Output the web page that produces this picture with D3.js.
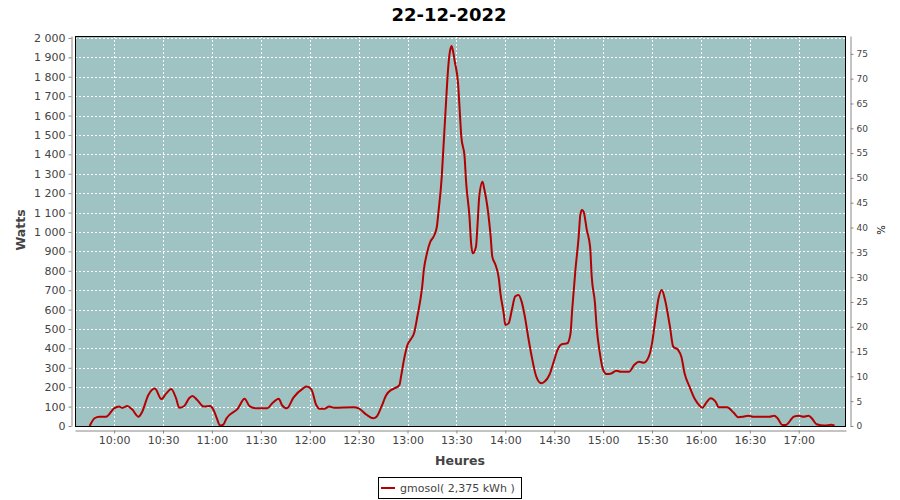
<!DOCTYPE html>
<html>
<head>
<meta charset="utf-8">
<script src="https://cdn.jsdelivr.net/npm/d3@7"></script>
<style>
  body { margin: 0; background: #ffffff; }
  svg { display: block; font-family: "DejaVu Sans", sans-serif; }
</style>
</head>
<body>
<svg id="chart" width="900" height="500"></svg>
<script>
const title = "22-12-2022";
const seriesName = "gmosol( 2,375 kWh )";
const xDomain = ["09:36", "17:29"];
const leftMax = 2010;
const rightMax = 78.6;
const leftTicks = [0,100,200,300,400,500,600,700,800,900,1000,1100,1200,1300,1400,1500,1600,1700,1800,1900,2000];
const rightTicks = [0,5,10,15,20,25,30,35,40,45,50,55,60,65,70,75];
const times = ["09:45","09:48","09:51","09:55","10:00","10:03","10:05","10:08","10:11","10:15","10:17","10:21","10:25","10:29","10:32","10:35","10:38","10:40","10:43","10:46","10:48","10:51","10:55","10:59","11:01","11:03","11:05","11:07","11:09","11:16","11:20","11:23","11:27","11:34","11:37","11:41","11:43","11:46","11:50","11:56","11:58","12:01","12:04","12:06","12:09","12:12","12:15","12:27","12:30","12:35","12:39","12:41","12:44","12:47","12:50","12:52","12:55","12:56","12:58","13:00","13:02","13:04","13:06","13:09","13:10","13:12","13:14","13:16","13:18","13:19","13:21","13:22","13:23","13:24","13:25","13:26","13:27","13:28","13:29","13:31","13:32","13:33","13:35","13:36","13:38","13:39","13:40","13:42","13:43","13:44","13:46","13:47","13:49","13:51","13:52","13:54","13:56","13:57","13:59","14:00","14:02","14:04","14:06","14:08","14:10","14:12","14:14","14:16","14:19","14:22","14:24","14:27","14:30","14:32","14:35","14:38","14:40","14:41","14:43","14:45","14:46","14:47","14:48","14:50","14:52","14:53","14:55","14:56","14:58","15:00","15:02","15:05","15:08","15:11","15:16","15:19","15:22","15:25","15:28","15:30","15:32","15:34","15:36","15:38","15:41","15:43","15:46","15:48","15:50","15:53","15:56","15:58","16:01","16:03","16:06","16:09","16:11","16:16","16:20","16:23","16:26","16:29","16:32","16:42","16:45","16:47","16:50","16:52","16:57","17:00","17:03","17:06","17:08","17:11","17:16","17:20","17:22"];
const watts = [0,40,48,48,91,100,93,103,86,48,69,160,193,139,168,191,143,94,103,143,155,134,100,103,82,40,2,7,40,91,141,103,91,91,117,141,108,91,146,194,203,189,108,89,89,100,94,96,91,57,40,48,100,160,186,194,211,254,349,418,447,478,563,718,804,893,950,976,1027,1105,1285,1431,1577,1723,1852,1929,1959,1929,1878,1766,1629,1491,1388,1251,1079,942,890,924,1045,1182,1259,1225,1130,976,873,830,761,684,581,521,529,598,667,675,641,563,460,366,254,220,228,263,340,392,423,426,478,598,804,976,1088,1113,1105,1010,924,770,632,512,375,289,268,271,285,280,280,314,331,326,357,426,546,658,701,649,512,409,392,357,271,203,143,117,94,117,143,125,96,96,69,45,48,53,48,48,53,40,5,5,48,53,48,53,40,9,2,7,2];

const parse = d3.timeParse("%H:%M");
const data = times.map((t, i) => ({ t: parse(t), v: watts[i] }));

const svg = d3.select("#chart");
const L = 75, R = 846, T = 36, B = 426;

const x = d3.scaleTime().domain(xDomain.map(parse)).range([L, R]);
const y = d3.scaleLinear().domain([0, leftMax]).range([B, T]);
const y2 = d3.scaleLinear().domain([0, rightMax]).range([B, T]);

// title
svg.append("text").attr("x", 449).attr("y", 21).attr("text-anchor", "middle")
  .attr("font-size", 18).attr("font-weight", "bold").attr("fill", "#000").text(title);

// plot background
svg.append("rect").attr("x", L).attr("y", T).attr("width", R - L).attr("height", B - T)
  .attr("fill", "#9ec3c2");

const xTickVals = x.ticks(d3.timeMinute.every(30));
// grid
const grid = svg.append("g").attr("stroke", "#ffffff").attr("stroke-width", 1).attr("stroke-dasharray", "2,2");
grid.selectAll("line.h").data(leftTicks.filter(d => d > 0)).join("line")
  .attr("x1", L).attr("x2", R).attr("y1", d => Math.round(y(d)) + 0.5).attr("y2", d => Math.round(y(d)) + 0.5);
grid.selectAll("line.v").data(xTickVals).join("line")
  .attr("y1", T).attr("y2", B).attr("x1", d => Math.round(x(d)) + 0.5).attr("x2", d => Math.round(x(d)) + 0.5);

// line
svg.append("clipPath").attr("id", "clip").append("rect")
  .attr("x", L).attr("y", T).attr("width", R - L).attr("height", B - T);
svg.append("path").datum(data)
  .attr("clip-path", "url(#clip)")
  .attr("fill", "none").attr("stroke", "#b40000").attr("stroke-width", 2).attr("stroke-linejoin", "round")
  .attr("d", d3.line().x(d => x(d.t)).y(d => y(d.v)).curve(d3.curveMonotoneX));

// plot border
svg.append("rect").attr("x", L + 0.5).attr("y", T + 0.5).attr("width", R - L - 1).attr("height", B - T)
  .attr("fill", "none").attr("stroke", "#000").attr("stroke-width", 1);

const fmt = v => d3.format(",")(v).replace(/,/g, " ");

// left axis
const gl = svg.append("g").attr("transform", "translate(71.5,0)")
  .call(d3.axisLeft(y).tickValues(leftTicks).tickFormat(fmt).tickSize(3).tickPadding(3).tickSizeOuter(0));
// bottom axis
const gb = svg.append("g").attr("transform", "translate(0,430.5)")
  .call(d3.axisBottom(x).tickValues(xTickVals).tickFormat(d3.timeFormat("%H:%M")).tickSize(3).tickPadding(3).tickSizeOuter(0));
// right axis
const gr = svg.append("g").attr("transform", "translate(850.5,0)")
  .call(d3.axisRight(y2).tickValues(rightTicks).tickSize(3).tickPadding(3).tickSizeOuter(0));

[gl, gb, gr].forEach(g => {
  g.select(".domain").attr("stroke", "#888");
  g.selectAll(".tick line").attr("stroke", "#888");
  g.selectAll(".tick text").attr("fill", "#444").attr("font-family", "DejaVu Sans, sans-serif");
});
gl.selectAll(".tick text").attr("font-size", 11);
gb.selectAll(".tick text").attr("font-size", 11);
gr.selectAll(".tick text").attr("font-size", 9);

// axis labels
svg.append("text").attr("transform", "translate(25,230) rotate(-90)").attr("text-anchor", "middle")
  .attr("font-size", 12.5).attr("font-weight", "bold").attr("fill", "#444").text("Watts");
svg.append("text").attr("x", 460).attr("y", 465).attr("text-anchor", "middle")
  .attr("font-size", 12.5).attr("font-weight", "bold").attr("fill", "#444").text("Heures");
svg.append("text").attr("transform", "translate(877,230) rotate(90)").attr("text-anchor", "middle")
  .attr("font-size", 10).attr("fill", "#000").text("%");

// legend
const lg = svg.append("g");
lg.append("rect").attr("x", 378.5).attr("y", 477.5).attr("width", 143).attr("height", 21)
  .attr("fill", "#fff").attr("stroke", "#000");
lg.append("line").attr("x1", 381).attr("x2", 395).attr("y1", 488).attr("y2", 488)
  .attr("stroke", "#b40000").attr("stroke-width", 2);
lg.append("text").attr("x", 400).attr("y", 492).attr("font-size", 11).attr("fill", "#444").text(seriesName);
</script>
</body>
</html>
